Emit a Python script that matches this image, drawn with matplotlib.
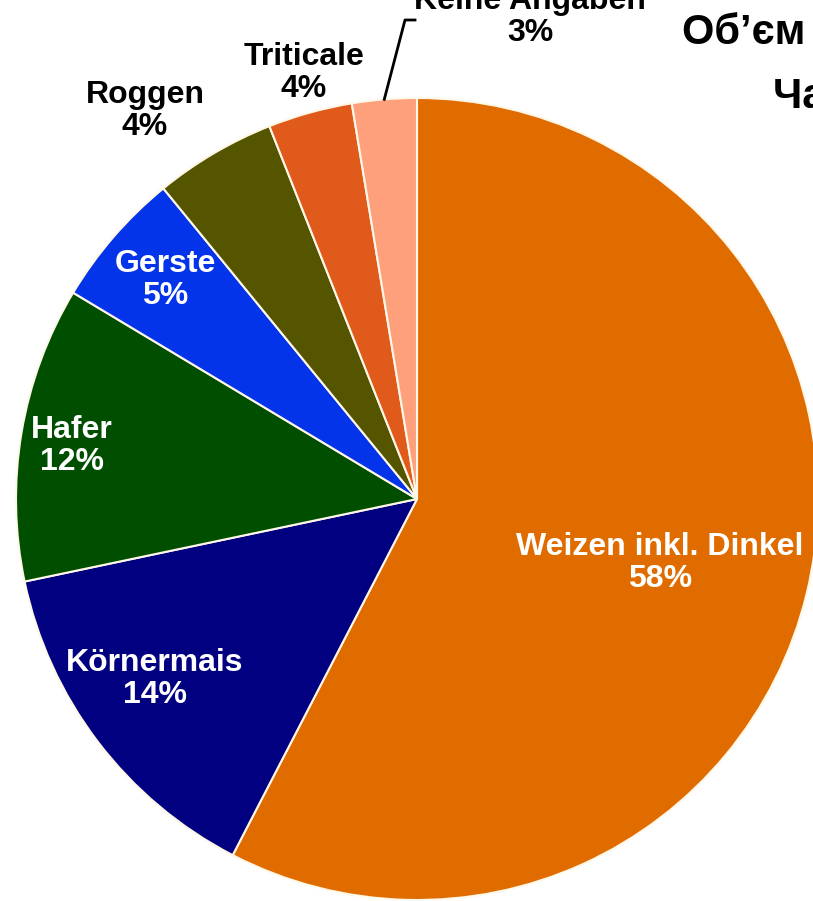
import numpy as np
import matplotlib
matplotlib.use('Agg')
import matplotlib.pyplot as plt

# Data (shares in %)
categories = ['Weizen inkl. Dinkel', 'Körnermais', 'Hafer', 'Gerste',
              'Roggen', 'Triticale', 'Keine Angaben']
shares = [57.6, 14.1, 11.9, 5.5, 4.9, 3.4, 2.6]
share_labels = ['58%', '14%', '12%', '5%', '4%', '4%', '3%']
colors = ['#E06C00', '#000080', '#004F00', '#0434EA',
          '#555500', '#E05A1C', '#FFA07C']

W, H = 813, 901
fig = plt.figure(figsize=(W / 100, H / 100), dpi=100)
ax = fig.add_axes([0, 0, 1, 1])

cx, cy, r = 417, H - 499, 401
wedges, _ = ax.pie(shares, colors=colors, startangle=90, counterclock=False,
                   center=(cx, cy), radius=r, frame=True,
                   wedgeprops=dict(edgecolor='#FFF8E8', linewidth=1.5))
ax.set_xlim(0, W)
ax.set_ylim(0, H)
ax.set_aspect('equal')
ax.axis('off')

font = 'Liberation Sans'
# label positions in image pixels (x, y from top)
label_pos = [(660, 563), (155, 679), (72, 446), (165, 280),
             (145, 111), (304, 73), (530, 17)]
label_col = ['white', 'white', 'white', 'white', 'black', 'black', 'black']
for name, pct, (x, y), c in zip(categories, share_labels, label_pos, label_col):
    ax.text(x, H - y, f'{name}\n{pct}', ha='center', va='center',
            fontsize=23, fontweight='bold', color=c, family=font,
            linespacing=1.12)

# leader line for the smallest slice
w = wedges[-1]
mid = np.deg2rad((w.theta1 + w.theta2) / 2)
x0, y0 = cx + r * np.cos(mid), cy + r * np.sin(mid)
ax.plot([x0, 405, 415], [y0, H - 20, H - 20], color='black', lw=2,
        clip_on=False)

# title (cut off at the right edge in the original)
ax.text(682, H - 44, 'Об’єм переробки зерна', ha='left', va='baseline',
        fontsize=30, fontweight='bold', family=font, color='black')
ax.text(773, H - 107, 'Частка, %', ha='left', va='baseline',
        fontsize=30, fontweight='bold', family=font, color='black')

fig.savefig('out.png', dpi=100)
